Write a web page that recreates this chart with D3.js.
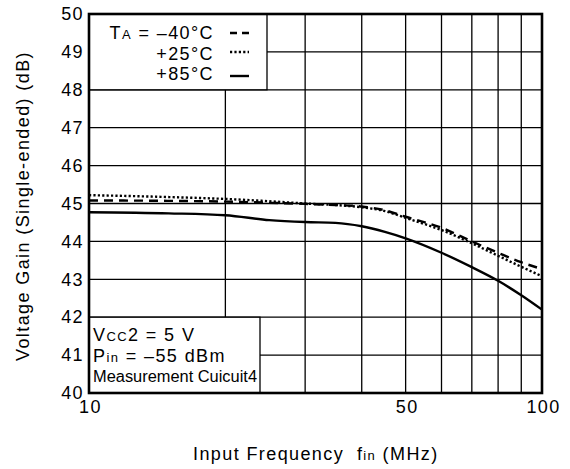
<!DOCTYPE html>
<html><head><meta charset="utf-8">
<script src="https://cdn.jsdelivr.net/npm/d3@7"></script>
<style>body{margin:0;background:#fff}svg{display:block;font-family:"Liberation Sans",Arial,sans-serif}text{letter-spacing:1.4px}</style>
</head><body><svg id="c" width="570" height="469"></svg>
<script>
const freq = [10, 15, 20, 25, 30, 35, 40, 45, 50, 60, 70, 80, 90, 100];
const gainM40 = [45.08, 45.07, 45.05, 45.02, 44.99, 44.96, 44.92, 44.82, 44.65, 44.36, 44.0, 43.7, 43.45, 43.27];
const gainP25 = [45.22, 45.17, 45.12, 45.06, 45.0, 44.96, 44.9, 44.8, 44.62, 44.3, 43.95, 43.62, 43.33, 43.08];
const gainP85 = [44.77, 44.74, 44.69, 44.56, 44.51, 44.49, 44.4, 44.25, 44.08, 43.7, 43.32, 42.96, 42.58, 42.2];
const xGrid = [10, 20, 30, 40, 50, 60, 70, 80, 90, 100];
const xTickLabels = [10, 50, 100];
const yTicks = [40, 41, 42, 43, 44, 45, 46, 47, 48, 49, 50];
const seriesNames = ["\u201340\u00b0C", "+25\u00b0C", "+85\u00b0C"];

const svg = d3.select("#c");
const L = 89, R = 542, T = 14, B = 393;
const x = d3.scaleLog().domain([10, 100]).range([L, R]);
const y = d3.scaleLinear().domain([40, 50]).range([B, T]);
const FS = 18;

const g = svg.append("g");
g.selectAll(".gx").data(xGrid).join("line")
  .attr("x1", d => x(d)).attr("x2", d => x(d)).attr("y1", T).attr("y2", B)
  .attr("stroke", "#000").attr("stroke-width", 1.3);
g.selectAll(".gy").data(yTicks).join("line")
  .attr("x1", L).attr("x2", R).attr("y1", d => y(d)).attr("y2", d => y(d))
  .attr("stroke", "#000").attr("stroke-width", 1.3);

g.append("rect").attr("x", L).attr("y", T).attr("width", 267 - L).attr("height", y(48) - T)
  .attr("fill", "#fff").attr("stroke", "#000").attr("stroke-width", 1.3);
g.append("rect").attr("x", L).attr("y", y(42)).attr("width", 260 - L).attr("height", B - y(42))
  .attr("fill", "#fff").attr("stroke", "#000").attr("stroke-width", 1.3);

g.append("rect").attr("x", L).attr("y", T).attr("width", R - L).attr("height", B - T)
  .attr("fill", "none").attr("stroke", "#000").attr("stroke-width", 2.6);

const yAxis = d3.axisLeft(y).tickValues(yTicks).tickSize(0).tickPadding(5).tickFormat(d3.format("d"));
const ya = g.append("g").attr("transform", `translate(${L},0)`).call(yAxis);
ya.select(".domain").remove();
ya.selectAll("text").attr("font-size", FS).attr("fill", "#000").attr("font-family", "Liberation Sans, Arial, sans-serif");

const xAxis = d3.axisBottom(x).tickValues(xTickLabels).tickSize(0).tickPadding(7).tickFormat(d3.format("d"));
const xa = g.append("g").attr("transform", `translate(1,${B})`).call(xAxis);
xa.select(".domain").remove();
xa.selectAll("text").attr("font-size", FS).attr("fill", "#000").attr("font-family", "Liberation Sans, Arial, sans-serif");

const series = [
  {v: gainM40, dash: "9,6", ldash: "7,5"},
  {v: gainP25, dash: "2.2,2.2", ldash: "2.2,2.2"},
  {v: gainP85, dash: null, ldash: null}
];
const line = d3.line().x(d => x(d[0])).y(d => y(d[1])).curve(d3.curveMonotoneX);
series.forEach(s => {
  g.append("path").datum(freq.map((f, i) => [f, s.v[i]]))
    .attr("d", line).attr("fill", "none").attr("stroke", "#000")
    .attr("stroke-width", 2.4).attr("stroke-dasharray", s.dash);
});

// legend
const lg = g.append("g");
const lBase = [39, 60, 80];
const lLine = [33, 52, 76];
const tA = lg.append("text").attr("x", 214).attr("y", lBase[0]).attr("text-anchor", "end").attr("font-size", FS);
tA.append("tspan").text("T");
tA.append("tspan").attr("font-size", 13).text("A");
tA.append("tspan").text(" = " + seriesNames[0]);
lg.append("text").attr("x", 214).attr("y", lBase[1]).attr("text-anchor", "end").attr("font-size", FS).text(seriesNames[1]);
lg.append("text").attr("x", 214).attr("y", lBase[2]).attr("text-anchor", "end").attr("font-size", FS).text(seriesNames[2]);
series.forEach((s, i) => {
  lg.append("line").attr("x1", 230).attr("x2", 249).attr("y1", lLine[i]).attr("y2", lLine[i])
    .attr("stroke", "#000").attr("stroke-width", 2.4).attr("stroke-dasharray", s.ldash);
});

// conditions
const c1 = g.append("text").attr("x", 93).attr("y", 341).attr("font-size", FS);
c1.append("tspan").text("V");
c1.append("tspan").attr("font-size", 13).text("CC");
c1.append("tspan").text("2 = 5 V");
const c2 = g.append("text").attr("x", 93).attr("y", 362).attr("font-size", FS);
c2.append("tspan").text("P");
c2.append("tspan").attr("font-size", 13).text("in");
c2.append("tspan").text(" = \u201355 dBm");
g.append("text").attr("x", 93).attr("y", 382).attr("font-size", 16).style("letter-spacing", "0px")
  .attr("textLength", 164).attr("lengthAdjust", "spacingAndGlyphs").text("Measurement Cuicuit4");

// axis titles
const xt = svg.append("text").attr("x", 193).attr("y", 460).attr("font-size", FS);
xt.append("tspan").text("Input Frequency\u00a0\u00a0f");
xt.append("tspan").attr("font-size", 13).text("in");
xt.append("tspan").text(" (MHz)");
svg.append("text").attr("transform", "translate(29,206) rotate(-90)").attr("text-anchor", "middle")
  .attr("font-size", FS).text("Voltage Gain (Single-ended) (dB)");
</script></body></html>
